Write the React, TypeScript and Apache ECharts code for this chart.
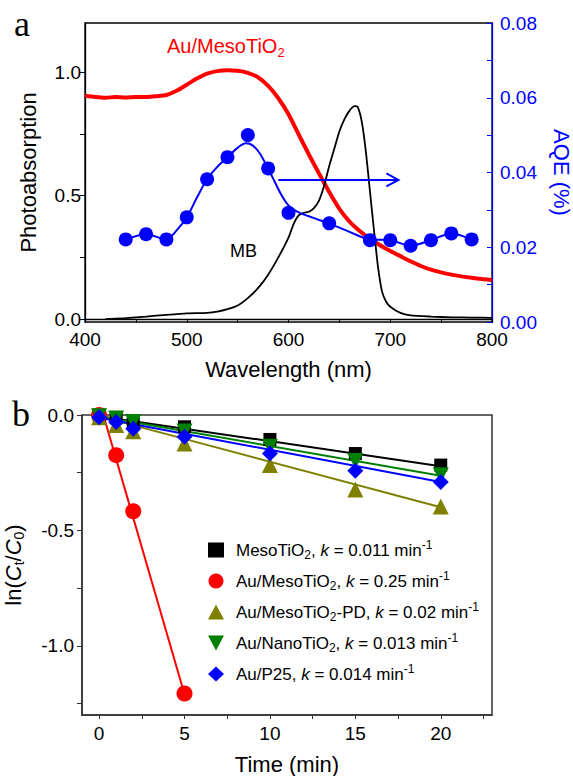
import { useEffect, useRef } from "react";
import * as echarts from "echarts";

const FONT = "'Liberation Sans', Arial, Helvetica, sans-serif";
const SERIF = "'Liberation Serif', 'Times New Roman', serif";

// ---- Panel a: photoabsorption of Au/MesoTiO2 ----
const redWavelength = [400, 410, 420, 430, 440, 450, 460, 470, 480, 490, 500, 510, 520, 530, 540, 550, 560, 570, 580, 590, 600, 610, 620, 630, 640, 650, 660, 670, 680, 690, 700, 710, 720, 730, 740, 750, 760, 770, 780, 790, 800];
const redAbsorption = [0.905, 0.9, 0.897, 0.9, 0.898, 0.9, 0.9, 0.903, 0.908, 0.925, 0.95, 0.975, 0.995, 1.005, 1.008, 1.006, 0.998, 0.98, 0.945, 0.895, 0.83, 0.748, 0.667, 0.59, 0.515, 0.447, 0.395, 0.357, 0.326, 0.299, 0.276, 0.255, 0.234, 0.215, 0.2, 0.189, 0.18, 0.173, 0.167, 0.162, 0.158];

// ---- Panel a: MB absorption ----
const mbWavelength = [420, 440, 460, 480, 500, 520, 530, 540, 550, 560, 570, 580, 590, 600, 605, 610, 615, 620, 625, 630, 635, 640, 645, 650, 655, 660, 665, 668, 672, 676, 680, 684, 688, 692, 696, 700, 710, 720, 740, 760, 780, 800];
const mbAbsorption = [0.0, 0.004, 0.01, 0.017, 0.023, 0.025, 0.03, 0.04, 0.055, 0.085, 0.125, 0.18, 0.25, 0.33, 0.385, 0.42, 0.43, 0.435, 0.45, 0.48, 0.54, 0.62, 0.69, 0.76, 0.81, 0.845, 0.863, 0.86, 0.8, 0.68, 0.52, 0.36, 0.21, 0.11, 0.07, 0.05, 0.025, 0.015, 0.01, 0.007, 0.006, 0.005];

// ---- Panel a: AQE points and fitted line ----
const aqeWavelength = [440, 460, 480, 500, 520, 540, 560, 580, 600, 640, 680, 700, 720, 740, 760, 780];
const aqeValues = [0.0221, 0.0235, 0.0221, 0.028, 0.0382, 0.0441, 0.05, 0.0411, 0.0292, 0.0264, 0.0219, 0.0219, 0.0204, 0.0219, 0.0237, 0.0221];
const aqeFitWavelength = [440, 460, 480, 490, 500, 510, 520, 530, 540, 550, 558, 565, 572, 580, 586, 592, 600, 610, 620, 630, 640, 660, 680, 700, 720, 740, 760, 780];
const aqeFitValues = [0.0221, 0.0235, 0.0221, 0.0245, 0.028, 0.0333, 0.0382, 0.0415, 0.0441, 0.0466, 0.0478, 0.0472, 0.045, 0.041, 0.0378, 0.0345, 0.0312, 0.0293, 0.0283, 0.0273, 0.0264, 0.0241, 0.0221, 0.0219, 0.0204, 0.0219, 0.0237, 0.0221];
const arrowFrom = 590;
const arrowTo = 708;
const arrowLevel = 0.038;

// ---- Panel b: kinetics ----
const times = [0, 1, 2, 5, 10, 15, 20];
const timesAuMeso = [0, 1, 2, 5];
const mesoTiO2 = [0, -0.012, -0.03, -0.051, -0.106, -0.167, -0.217];
const auMesoTiO2 = [0, -0.174, -0.417, -1.207];
const auMesoPD = [-0.01, -0.043, -0.07, -0.123, -0.217, -0.323, -0.396];
const auNanoTiO2 = [-0.005, -0.015, -0.03, -0.072, -0.138, -0.199, -0.261];
const auP25 = [-0.01, -0.03, -0.06, -0.094, -0.167, -0.242, -0.29];

// fitted lines: [start t, start value, end t, end value]
const fitMeso = [0, -0.005, 20, -0.222];
const fitAuMeso = [0.25, 0, 5, -1.21];
const fitPD = [0, -0.005, 20, -0.4];
const fitNano = [0, -0.005, 20, -0.263];
const fitP25 = [0, -0.012, 20, -0.29];

const seriesNames = ["MesoTiO2", "Au/MesoTiO2", "Au/MesoTiO2-PD", "Au/NanoTiO2", "Au/P25"];
const legendLabels = [
  "MesoTiO{sub|2}, {i|k} = 0.011 min{sup|-1}",
  "Au/MesoTiO{sub|2}, {i|k} = 0.25 min{sup|-1}",
  "Au/MesoTiO{sub|2}-PD, {i|k} = 0.02 min{sup|-1}",
  "Au/NanoTiO{sub|2}, {i|k} = 0.013 min{sup|-1}",
  "Au/P25, {i|k} = 0.014 min{sup|-1}",
];

const zip = (xs: number[], ys: number[]) => xs.map((x, i) => [x, ys[i]]);
const fitData = (f: number[]) => [[f[0], f[1]], [f[2], f[3]]];
const range = (a: number, b: number, s: number) => {
  const out: number[] = [];
  for (let v = a; v <= b + 1e-9; v += s) out.push(+v.toFixed(4));
  return out;
};

const RED = "#FF0000";
const BLUE = "#0000FF";
const OLIVE = "#808000";
const GREEN = "#008000";
const BLACK = "#000000";

export default function App() {
  const ref = useRef<HTMLDivElement>(null);
  useEffect(() => {
    const chart = echarts.init(ref.current!, null, { renderer: "svg" });
    const tickLabel = { fontSize: 19, fontFamily: FONT, color: BLACK };
    const nameStyle = { fontSize: 22, fontFamily: FONT, color: BLACK };
    const richSmall = {
      sub: { fontSize: 12, lineHeight: 12, verticalAlign: "bottom", fontFamily: FONT },
      sup: { fontSize: 12, lineHeight: 12, verticalAlign: "top", fontFamily: FONT },
      i: { fontStyle: "italic", fontSize: 17, fontFamily: FONT },
    };
    const symbols: any[] = [
      { symbol: "rect", size: 13, rotate: 0, color: BLACK, data: zip(times, mesoTiO2), fit: fitMeso },
      { symbol: "circle", size: 16, rotate: 0, color: RED, data: zip(timesAuMeso, auMesoTiO2), fit: fitAuMeso },
      { symbol: "triangle", size: 16, rotate: 0, color: OLIVE, data: zip(times, auMesoPD), fit: fitPD },
      { symbol: "triangle", size: 16, rotate: 180, color: GREEN, data: zip(times, auNanoTiO2), fit: fitNano },
      { symbol: "diamond", size: 16, rotate: 0, color: BLUE, data: zip(times, auP25), fit: fitP25 },
    ];
    const bottomSeries: any[] = [];
    symbols.forEach((s, i) => {
      bottomSeries.push({
        type: "line",
        name: "fit" + i,
        xAxisIndex: 1,
        yAxisIndex: 2,
        data: fitData(s.fit),
        showSymbol: false,
        lineStyle: { color: s.color, width: 2 },
        z: 2,
      });
    });
    symbols.forEach((s, i) => {
      bottomSeries.push({
        type: "scatter",
        name: seriesNames[i],
        xAxisIndex: 1,
        yAxisIndex: 2,
        data: s.data,
        symbol: s.symbol,
        symbolSize: s.size,
        symbolRotate: s.rotate,
        itemStyle: { color: s.color, opacity: 1 },
        z: 3,
      });
    });

    const option: any = {
      animation: false,
      backgroundColor: "#ffffff",
      textStyle: { fontFamily: FONT },
      grid: [
        { left: 85, top: 23, width: 407, height: 299, show: true, borderColor: BLACK, borderWidth: 1.3, backgroundColor: "transparent", outerBoundsMode: "none", containLabel: false },
        { left: 82, top: 415, width: 410, height: 300, show: true, borderColor: "#333", borderWidth: 1.5, backgroundColor: "transparent", outerBoundsMode: "none", containLabel: false },
      ],
      xAxis: [
        {
          gridIndex: 0,
          type: "value",
          min: 400,
          max: 800,
          axisLine: { lineStyle: { color: BLACK, width: 1.3 } },
          axisTick: { length: 4, lineStyle: { color: BLACK }, customValues: range(400, 800, 50) },
          axisLabel: { ...tickLabel, margin: 8, customValues: range(400, 800, 100) },
          splitLine: { show: false },
          name: "Wavelength (nm)",
          nameLocation: "middle",
          nameGap: 36,
          nameTextStyle: nameStyle,
        },
        {
          gridIndex: 1,
          type: "value",
          min: -1,
          max: 23,
          axisLine: { onZero: false, lineStyle: { color: "#333", width: 1.5 } },
          axisTick: { length: 4, lineStyle: { color: "#333" }, customValues: range(0, 22.5, 2.5) },
          axisLabel: { ...tickLabel, margin: 9, customValues: range(0, 20, 5) },
          splitLine: { show: false },
          name: "Time (min)",
          nameLocation: "middle",
          nameGap: 38,
          nameTextStyle: nameStyle,
        },
      ],
      yAxis: [
        {
          gridIndex: 0,
          type: "value",
          min: -0.012,
          max: 1.2,
          axisLine: { show: true, lineStyle: { color: BLACK, width: 1.3 } },
          axisTick: { show: true, length: 5, lineStyle: { color: BLACK }, customValues: range(0, 1, 0.25) },
          axisLabel: { ...tickLabel, margin: 4, customValues: [0, 0.5, 1], formatter: (v: number) => v.toFixed(1) },
          splitLine: { show: false },
          name: "Photoabsorption",
          nameLocation: "middle",
          nameGap: 46,
          nameTextStyle: nameStyle,
        },
        {
          gridIndex: 0,
          type: "value",
          position: "right",
          min: 0,
          max: 0.08,
          axisLine: { show: true, lineStyle: { color: BLUE, width: 1.3 } },
          axisTick: { show: true, inside: true, length: 5, lineStyle: { color: BLUE }, customValues: range(0, 0.08, 0.01) },
          axisLabel: { ...tickLabel, color: BLUE, margin: 8, customValues: range(0, 0.08, 0.02), formatter: (v: number) => v.toFixed(2) },
          splitLine: { show: false },
          name: "AQE (%)",
          nameLocation: "middle",
          nameRotate: -90,
          nameGap: 58,
          nameTextStyle: { ...nameStyle, color: BLUE },
        },
        {
          gridIndex: 1,
          type: "value",
          min: -1.3,
          max: 0,
          axisLine: { show: true, onZero: false, lineStyle: { color: "#333", width: 1.5 } },
          axisTick: { show: true, length: 5, lineStyle: { color: "#333" }, customValues: range(-1.25, 0, 0.25) },
          axisLabel: { ...tickLabel, margin: 8, customValues: [-1, -0.5, 0], formatter: (v: number) => v.toFixed(1) },
          splitLine: { show: false },
          name: "ln({i|C}{s|t}/{i|C}{s|0})",
          nameLocation: "middle",
          nameGap: 56,
          nameTextStyle: {
            ...nameStyle,
            lineHeight: 26,
            rich: {
              i: { fontStyle: "italic", fontSize: 22, fontFamily: FONT, color: BLACK },
              s: { fontSize: 14, lineHeight: 14, verticalAlign: "bottom", fontFamily: FONT, color: BLACK },
            },
          },
        },
      ],
      legend: {
        data: seriesNames.map((n, i) => (i === 3 ? { name: n, icon: "path://M0,0L16,0L8,15Z" } : { name: n })),
        orient: "vertical",
        left: 203,
        top: 534,
        itemGap: 9,
        itemWidth: 16,
        itemHeight: 15,
        symbolKeepAspect: true,
        selectedMode: false,
        formatter: (name: string) => legendLabels[seriesNames.indexOf(name)],
        textStyle: { fontSize: 17, fontFamily: FONT, color: BLACK, lineHeight: 22, padding: [0, 0, 0, 7], rich: richSmall },
      },
      graphic: [
        { type: "text", left: 14, top: 6, style: { text: "a", fontSize: 36, fontFamily: SERIF, fill: BLACK } },
        { type: "text", left: 12, top: 396, style: { text: "b", fontSize: 36, fontFamily: SERIF, fill: BLACK } },
        {
          type: "text",
          x: 167,
          y: 46,
          style: {
            text: "Au/MesoTiO{sub|2}",
            fontSize: 20,
            fontFamily: FONT,
            fill: RED,
            verticalAlign: "middle",
            lineHeight: 26,
            rich: { sub: { fontSize: 13, lineHeight: 14, verticalAlign: "bottom", fontFamily: FONT, fill: RED } },
          },
        },
        { type: "text", x: 230, y: 251, style: { text: "MB", fontSize: 18, fontFamily: FONT, fill: BLACK, verticalAlign: "middle" } },
      ],
      series: [
        {
          type: "line",
          name: "red",
          xAxisIndex: 0,
          yAxisIndex: 0,
          data: zip(redWavelength, redAbsorption),
          showSymbol: false,
          smooth: 0.2,
          lineStyle: { color: RED, width: 4 },
          z: 2,
        },
        {
          type: "line",
          name: "MB",
          xAxisIndex: 0,
          yAxisIndex: 0,
          data: zip(mbWavelength, mbAbsorption),
          showSymbol: false,
          smooth: 0.2,
          lineStyle: { color: BLACK, width: 1.8 },
          z: 3,
        },
        {
          type: "line",
          name: "aqeFit",
          xAxisIndex: 0,
          yAxisIndex: 1,
          data: zip(aqeFitWavelength, aqeFitValues),
          showSymbol: false,
          smooth: 0.3,
          lineStyle: { color: BLUE, width: 2 },
          z: 4,
        },
        {
          type: "scatter",
          name: "AQE",
          xAxisIndex: 0,
          yAxisIndex: 1,
          data: zip(aqeWavelength, aqeValues),
          symbol: "circle",
          symbolSize: 14,
          itemStyle: { color: BLUE, opacity: 1 },
          z: 5,
        },
        {
          type: "custom",
          name: "arrow",
          xAxisIndex: 0,
          yAxisIndex: 1,
          data: [[arrowFrom, arrowTo, arrowLevel]],
          encode: { x: [0, 1], y: 2 },
          renderItem: (_params: any, api: any) => {
            const a = api.coord([api.value(0), api.value(2)]);
            const b = api.coord([api.value(1), api.value(2)]);
            return {
              type: "group",
              children: [
                { type: "line", shape: { x1: a[0], y1: a[1], x2: b[0], y2: b[1] }, style: { stroke: BLUE, lineWidth: 2 } },
                {
                  type: "polyline",
                  shape: { points: [[b[0] - 12, b[1] - 6.5], [b[0], b[1]], [b[0] - 12, b[1] + 6.5]] },
                  style: { stroke: BLUE, lineWidth: 2, fill: "none" },
                },
              ],
            };
          },
          z: 6,
        },
        ...bottomSeries,
      ],
    };
    chart.setOption(option);
    return () => chart.dispose();
  }, []);
  return <div ref={ref} style={{ position: "absolute", left: 0, top: 0, width: 573, height: 776 }} />;
}
